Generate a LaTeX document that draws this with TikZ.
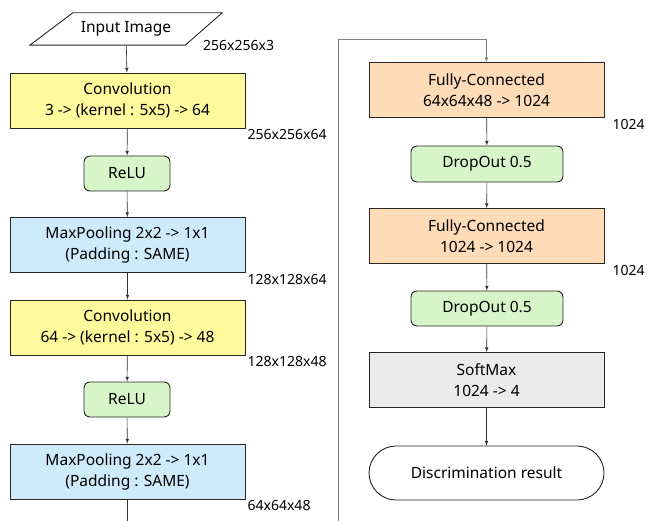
\documentclass[tikz,border=0pt]{standalone}
\usepackage{fontspec}
\setmainfont{Noto Sans}
\usetikzlibrary{shapes.misc}

\definecolor{convyellow}{HTML}{FFFA9C}
\definecolor{relugreen}{HTML}{D8F5C9}
\definecolor{poolblue}{HTML}{CDEBFA}
\definecolor{fcorange}{HTML}{FFDCB8}
\definecolor{smgray}{HTML}{EBEBEB}

\tikzset{
  layer/.style={draw=black!85,line width=0.9pt,minimum width=235pt,minimum height=55pt,
    align=center,inner sep=0pt,font=\fontsize{15.5}{21}\selectfont},
  actbox/.style={layer,rounded corners=6pt,minimum height=35pt,fill=relugreen},
  dimlabel/.style={anchor=north west,inner sep=0pt,font=\fontsize{14}{17}\selectfont},
  flow/.style={-latex,line width=0.6pt,black!80},
}

\begin{document}
\begin{tikzpicture}[x=1pt,y=-1pt]% [ show background grid ]
\useasboundingbox (0,0) rectangle (647,521);

\node[minimum width=192pt,minimum height=32pt,inner sep=0pt,
  font=\fontsize{15.5}{18}\selectfont] (input) at (126,29) {Input Image};
\draw[black!85,line width=0.9pt] ([xshift=43pt]input.north west) -- (input.north east)
  -- ([xshift=-37pt]input.south east) -- (input.south west) -- cycle;
\node[layer,fill=convyellow] (conv1) at (127.5,100.5) {Convolution\\3 -> (kernel : 5x5) -> 64};
\node[actbox,minimum width=86pt] (relu1) at (127,173.5) {ReLU};
\node[layer,fill=poolblue] (pool1) at (127.5,245) {MaxPooling 2x2 -> 1x1\\(Padding : SAME)};
\node[layer,fill=convyellow] (conv2) at (127.5,327.5) {Convolution\\64 -> (kernel : 5x5) -> 48};
\node[actbox,minimum width=86pt] (relu2) at (127,399.5) {ReLU};
\node[layer,fill=poolblue] (pool2) at (127.5,471.5) {MaxPooling 2x2 -> 1x1\\(Padding : SAME)};

\node[layer,fill=fcorange] (fc1) at (486.5,90) {Fully-Connected\\64x64x48 -> 1024};
\node[actbox,minimum width=152pt,minimum height=36pt] (drop1) at (487,164) {DropOut 0.5};
\node[layer,fill=fcorange] (fc2) at (486.5,236) {Fully-Connected\\1024 -> 1024};
\node[actbox,minimum width=152pt,minimum height=35pt] (drop2) at (487,308.5) {DropOut 0.5};
\node[layer,fill=smgray] (softmax) at (486.5,380) {SoftMax\\1024 -> 4};
\node[layer,rounded rectangle,minimum height=54pt] (result) at (486.5,473) {Discrimination result};

\node[dimlabel] (d0) at (203,40) {256x256x3};
\node[dimlabel] (d1) at ([xshift=2pt,yshift=-1pt]conv1.south east) {256x256x64};
\node[dimlabel] (d2) at ([xshift=2pt,yshift=-1pt]pool1.south east) {128x128x64};
\node[dimlabel] (d3) at ([xshift=2pt,yshift=-1pt]conv2.south east) {128x128x48};
\node[dimlabel] (d4) at ([xshift=2pt,yshift=-1pt]pool2.south east) {64x64x48};
\node[dimlabel] (d5) at ([xshift=8pt,yshift=-1pt]fc1.south east) {1024};
\node[dimlabel] (d6) at ([xshift=8pt,yshift=-1pt]fc2.south east) {1024};

\coordinate (cutleft) at (127.5,530);
\coordinate (cutright) at (338.5,530);

\draw[flow] (input) -- (conv1);
\draw[flow] (conv1) -- (relu1);
\draw[flow] (relu1) -- (pool1);
\draw[flow] (pool1) -- (conv2);
\draw[flow] (conv2) -- (relu2);
\draw[flow] (relu2) -- (pool2);
\draw[line width=0.6pt,black!80] (pool2) -- (cutleft);
\draw[flow,black!50] (cutright) |- ([yshift=23pt]fc1.north) -- (fc1.north);
\draw[flow] (fc1) -- (drop1);
\draw[flow] (drop1) -- (fc2);
\draw[flow] (fc2) -- (drop2);
\draw[flow] (drop2) -- (softmax);
\draw[flow] (softmax) -- (result);
\end{tikzpicture}
\end{document}
